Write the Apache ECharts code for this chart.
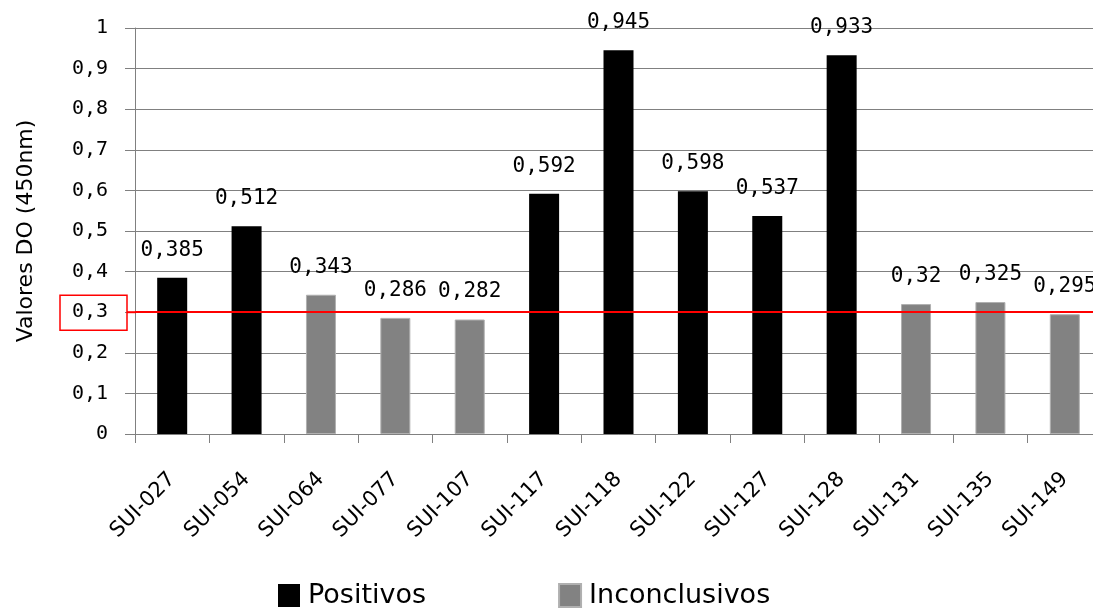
<!DOCTYPE html>
<html>
<head>
<meta charset="utf-8">
<script src="https://cdn.jsdelivr.net/npm/echarts@6/dist/echarts.min.js"></script>
<style>
  html, body { margin: 0; padding: 0; background: #ffffff; overflow: hidden; }
  /* the plot runs a little past the right edge of the window */
  #chart { width: 1112px; height: 608px; }
</style>
</head>
<body>
<div id="chart"></div>
<script>
// Sample identifiers along the x axis
const categories = ['SUI-027', 'SUI-054', 'SUI-064', 'SUI-077', 'SUI-107', 'SUI-117', 'SUI-118',
                    'SUI-122', 'SUI-127', 'SUI-128', 'SUI-131', 'SUI-135', 'SUI-149'];
// Optical density readings (450 nm) for each sample
const odValues = [0.385, 0.512, 0.343, 0.286, 0.282, 0.592, 0.945, 0.598, 0.537, 0.933, 0.32, 0.325, 0.295];
// Classification of each sample: 'P' = Positivos, 'I' = Inconclusivos
const status = ['P', 'P', 'I', 'I', 'I', 'P', 'P', 'P', 'P', 'P', 'I', 'I', 'I'];
// Cut-off value drawn as a red reference line
const cutOff = 0.3;
const seriesNames = ['Positivos', 'Inconclusivos'];

const positivos = odValues.map((v, i) => status[i] === 'P' ? v : null);
const inconclusivos = odValues.map((v, i) => status[i] === 'I' ? v : null);

const comma = v => String(v).replace('.', ',');

const labelStyle = {
  show: true,
  position: 'top',
  distance: 17,
  fontFamily: 'DejaVu Sans Mono',
  fontSize: 21,
  color: '#000',
  formatter: p => comma(p.value)
};

const chart = echarts.init(document.getElementById('chart'), null, { renderer: 'canvas' });

chart.setOption({
  animation: false,
  backgroundColor: '#ffffff',
  grid: { left: 135, top: 28, width: 967, height: 406 },
  legend: {
    left: 273,
    top: 577,
    itemWidth: 22,
    itemHeight: 23,
    itemGap: 132,
    icon: 'rect',
    textStyle: { fontFamily: 'DejaVu Sans', fontSize: 27, color: '#000', padding: [0, 0, 0, 3] },
    data: seriesNames
  },
  xAxis: {
    type: 'category',
    data: categories,
    axisLine: { lineStyle: { color: '#808080', width: 1 } },
    axisTick: { show: true, length: 9, alignWithLabel: false, lineStyle: { color: '#808080' } },
    axisLabel: {
      rotate: 45,
      margin: 42,
      interval: 0,
      fontFamily: 'DejaVu Sans',
      fontSize: 21,
      color: '#000'
    }
  },
  yAxis: {
    type: 'value',
    min: 0,
    max: 1,
    interval: 0.1,
    name: 'Valores DO (450nm)',
    nameLocation: 'middle',
    nameGap: 98,
    nameRotate: 90,
    nameTextStyle: { fontFamily: 'DejaVu Sans', fontSize: 22, color: '#000' },
    axisLine: { show: true, lineStyle: { color: '#808080', width: 1 } },
    axisTick: { show: true, length: 10, lineStyle: { color: '#808080' } },
    splitLine: { show: true, lineStyle: { color: '#808080', width: 1 } },
    axisLabel: {
      margin: 27,
      fontFamily: 'DejaVu Sans Mono',
      fontSize: 20,
      color: '#000',
      formatter: v => comma(Math.round(v * 10) / 10)
    }
  },
  series: [
    {
      name: seriesNames[0],
      type: 'bar',
      data: positivos,
      barWidth: 30,
      barGap: '-100%',
      itemStyle: { color: '#000000' },
      label: labelStyle,
      markLine: {
        silent: true,
        symbol: 'none',
        label: { show: false },
        lineStyle: { color: '#ff0000', width: 2, type: 'solid' },
        data: [{ yAxis: cutOff }]
      }
    },
    {
      name: seriesNames[1],
      type: 'bar',
      data: inconclusivos,
      barWidth: 30,
      barGap: '-100%',
      itemStyle: { color: '#828282', borderColor: '#b0b0b0', borderWidth: 1 },
      label: labelStyle
    }
  ]
});

// Red frame around the cut-off tick label, plus a short extension of the line over the tick
const yCut = chart.convertToPixel({ yAxisIndex: 0 }, cutOff);
chart.setOption({
  graphic: [
    {
      type: 'rect',
      shape: { x: 60, y: yCut - 17, width: 67, height: 35 },
      style: { fill: 'none', stroke: '#ff0000', lineWidth: 1.5 },
      z: 100
    },
    {
      type: 'line',
      shape: { x1: 127, y1: yCut, x2: 136, y2: yCut },
      style: { stroke: '#ff0000', lineWidth: 2 },
      z: 100
    }
  ]
});
</script>
</body>
</html>
